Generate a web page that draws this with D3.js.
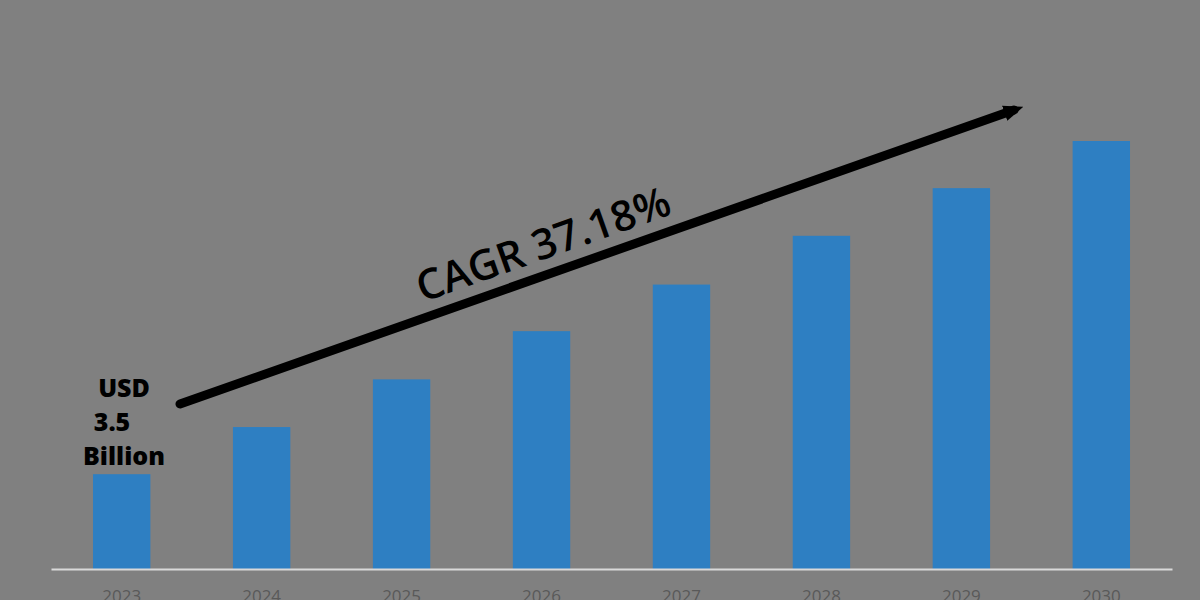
<!DOCTYPE html>
<html>
<head>
<meta charset="utf-8">
<script src="https://cdn.jsdelivr.net/npm/d3@7"></script>
<style>
  body { margin: 0; background: #808080; overflow: hidden; }
</style>
</head>
<body>
<div id="chart"></div>
<script>
// data
var years = ["2023", "2024", "2025", "2026", "2027", "2028", "2029", "2030"];
var values = [3.5, 5.24, 7.0, 8.78, 10.5, 12.3, 14.06, 15.8];
var cagrLabel = "CAGR 37.18%";
var startLabel = ["USD", "3.5", "Billion"];

var svgWidth = 1200;
var svgHeight = 600;
var margin = { top: 20, right: 28, bottom: 31, left: 51 };
var width = svgWidth - margin.left - margin.right;
var height = svgHeight - margin.top - margin.bottom;

var svg = d3.select("#chart")
    .append("svg")
    .attr("width", svgWidth)
    .attr("height", svgHeight)
    .style("background", "#808080");

var g = svg.append("g")
    .attr("transform", `translate(${margin.left}, ${margin.top})`);

var x = d3.scaleBand().domain(years).range([0, width]).paddingInner(0.59).paddingOuter(0.3);
var y = d3.scaleLinear().domain([0, 15.8]).range([height, height - 428]);

g.selectAll("rect.bar")
    .data(values)
    .enter().append("rect")
    .attr("class", "bar")
    .attr("x", (d, i) => x(years[i]))
    .attr("width", x.bandwidth())
    .attr("y", d => y(d))
    .attr("height", d => height - y(d))
    .attr("fill", "#2e7fc2");

// axis
var xAxis = g.append("g")
    .attr("transform", `translate(0, ${height})`)
    .call(d3.axisBottom(x).tickSize(0).tickPadding(21));
xAxis.select(".domain").attr("stroke", "#d9d9d9").attr("stroke-width", 2);
xAxis.selectAll("text")
    .attr("fill", "#595959")
    .style("font-family", "Open Sans, sans-serif")
    .style("font-size", "17px");

// arrow
svg.append("defs").append("marker")
    .attr("id", "head")
    .attr("viewBox", "0 0 10 10")
    .attr("refX", 5).attr("refY", 5)
    .attr("markerWidth", 2.2).attr("markerHeight", 2.2)
    .attr("orient", "auto")
    .append("path").attr("d", "M0,1 L10,5 L0,9 Z").attr("fill", "#000");

svg.append("line")
    .attr("x1", 180).attr("y1", 404)
    .attr("x2", 1014).attr("y2", 110)
    .attr("stroke", "#000")
    .attr("stroke-width", 9)
    .attr("stroke-linecap", "round")
    .attr("marker-end", "url(#head)");

svg.append("text")
    .attr("transform", "translate(548,258) rotate(-19.5)")
    .attr("text-anchor", "middle")
    .style("font-family", "Open Sans, sans-serif")
    .style("font-size", "42px")
    .style("font-weight", "600")
    .attr("fill", "#000")
    .text(cagrLabel);

var lx = [124, 112, 124];
svg.append("text")
    .style("font-family", "Open Sans, sans-serif")
    .style("font-size", "25px")
    .style("font-weight", "800")
    .attr("fill", "#000")
    .attr("text-anchor", "middle")
    .selectAll("tspan")
    .data(startLabel)
    .enter().append("tspan")
    .attr("x", (d, i) => lx[i])
    .attr("y", (d, i) => 397 + i * 34)
    .text(d => d);
</script>
</body>
</html>
